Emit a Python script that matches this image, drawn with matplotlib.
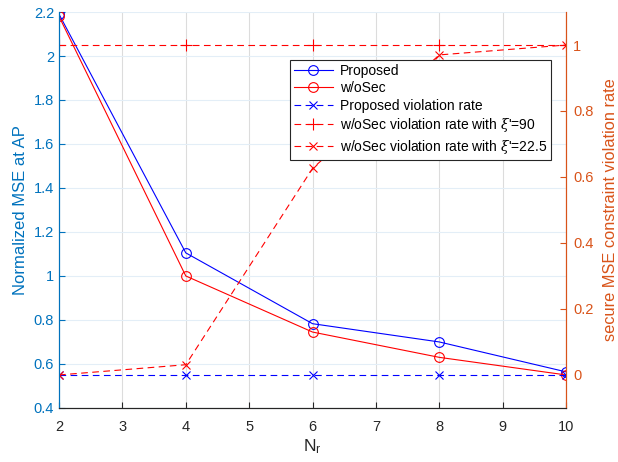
import matplotlib
matplotlib.use("Agg")
import matplotlib.pyplot as plt

plt.rcParams['font.family'] = ['Liberation Sans', 'DejaVu Sans']
plt.rcParams['mathtext.fontset'] = 'custom'
plt.rcParams['mathtext.it'] = 'DejaVu Serif:italic'
plt.rcParams['mathtext.rm'] = 'Liberation Sans'

# data
n_r = [2, 4, 6, 8, 10]
mse_proposed = [2.19, 1.105, 0.783, 0.70, 0.564]
mse_wosec = [2.18, 1.0, 0.745, 0.63, 0.55]
viol_proposed = [0, 0, 0, 0, 0]
viol_wosec_90 = [1, 1, 1, 1, 1]
viol_wosec_225 = [0, 0.031, 0.626, 0.97, 1.0]

left_ticks = [0.4, 0.6, 0.8, 1.0, 1.2, 1.4, 1.6, 1.8, 2.0, 2.2]
left_labels = ['0.4', '0.6', '0.8', '1', '1.2', '1.4', '1.6', '1.8', '2', '2.2']
right_ticks = [0, 0.2, 0.4, 0.6, 0.8, 1.0]
right_labels = ['0', '0.2', '0.4', '0.6', '0.8', '1']

blue_ax = '#0072BD'
orange_ax = '#D95319'

fig = plt.figure(figsize=(6.18, 4.62), dpi=100)
ax = fig.add_axes([0.0955, 0.117, 0.8205, 0.857])
ax2 = ax.twinx()

# grid
ax.set_xticks(range(2, 11))
ax.grid(True, axis='x', color='#dcdcdc', linewidth=0.8)
ax.grid(True, axis='y', color='#e3eef7', linewidth=0.8)
ax.set_axisbelow(True)

h1, = ax.plot(n_r, mse_proposed, '-o', color='blue', lw=0.8, ms=7, mfc='none', mew=0.8, label='Proposed')
h2, = ax.plot(n_r, mse_wosec, '-o', color='red', lw=0.8, ms=7, mfc='none', mew=0.8, label='w/oSec')
h3, = ax2.plot(n_r, viol_proposed, '--x', color='blue', lw=0.8, ms=6, mew=0.8, dashes=(6, 4),
               label='Proposed violation rate')
h4, = ax2.plot(n_r, viol_wosec_90, '--+', color='red', lw=0.8, ms=8, mew=0.8, dashes=(6, 4),
               label=r"w/oSec violation rate with $\xi$'=90")
h5, = ax2.plot(n_r, viol_wosec_225, '--x', color='red', lw=0.8, ms=6, mew=0.8, dashes=(6, 4),
               label=r"w/oSec violation rate with $\xi$'=22.5")

ax.set_xlim(2, 10)
ax.set_ylim(0.4, 2.2)
ax2.set_ylim(-0.1, 1.1)
ax.set_yticks(left_ticks)
ax.set_yticklabels(left_labels)
ax2.set_yticks(right_ticks)
ax2.set_yticklabels(right_labels)

ax.tick_params(axis='both', direction='in', labelsize=10.5, length=4)
ax.tick_params(axis='y', colors=blue_ax)
ax.tick_params(axis='x', colors='#262626', labelcolor='#262626', pad=9)
ax2.tick_params(axis='y', direction='in', colors=orange_ax, labelsize=10.5, length=4, pad=5)

for a in (ax, ax2):
    a.spines['top'].set_visible(False)
    a.spines['left'].set_color(blue_ax)
    a.spines['right'].set_color(orange_ax)
    a.spines['bottom'].set_color('#262626')

ax.set_ylabel('Normalized MSE at AP', color=blue_ax, fontsize=12)
ax2.set_ylabel('secure MSE constraint violation rate', color=orange_ax, fontsize=11.8, labelpad=7)
ax.set_xlabel(r'$\mathrm{N_r}$', color='#262626', fontsize=12.5, labelpad=2)

leg = ax2.legend(handles=[h1, h2, h3, h4, h5], loc='upper left', bbox_to_anchor=(0.455, 0.88),
                 fontsize=10, frameon=True, fancybox=False, framealpha=1,
                 edgecolor='#262626', handlelength=2.8, borderpad=0.3, labelspacing=0.25,
                 handletextpad=0.5, borderaxespad=0)
leg.get_frame().set_linewidth(0.8)

fig.savefig('out.png', dpi=100)
